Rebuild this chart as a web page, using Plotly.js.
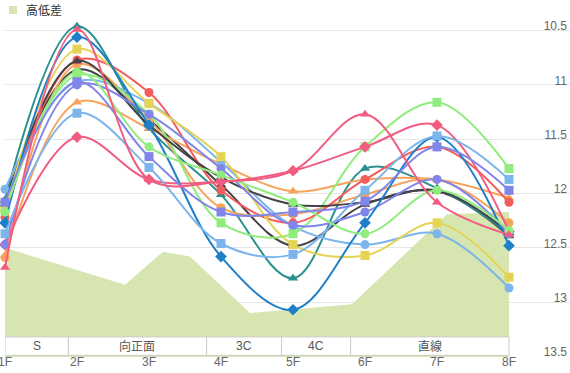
<!DOCTYPE html>
<html><head><meta charset="utf-8">
<script src="https://cdn.plot.ly/plotly-3.0.1.min.js"></script>
<style>html,body{margin:0;padding:0;background:#fff}#chart{width:570px;height:373px}</style>
</head><body><div id="chart"></div>
<script>
// ---- data ----
const xLabels = ['1F','2F','3F','4F','5F','6F','7F','8F'];
const xPos = [1,2,3,4,5,6,7,8];
const yTicks = [10.5, 11, 11.5, 12, 12.5, 13, 13.5];
const yTickText = ['10.5','11','11.5','12','12.5','13','13.5'];

// elevation profile (高低差)
const areaName = '高低差';
const areaX = [1, 2.667, 3.194, 3.569, 4.403, 4.958, 5.819, 7.139, 8];
const areaY = [12.50, 12.84, 12.535, 12.58, 13.10, 13.07, 13.02, 12.19, 12.17];

// course sections
const bandNames = ['S','向正面','3C','4C','直線'];
const bandStart = [1, 1.88, 3.8, 4.84, 5.8];
const bandEnd   = [1.88, 3.8, 4.84, 5.8, 8];

// lap series
const lapDark2   = [12.06, 10.86, 11.32, 11.92, 12.48, 12.10, 11.98, 12.39];
const lapTeal    = [12.06, 10.46, 11.40, 12.01, 12.78, 11.77, 11.95, 12.37];
const lapOrangeC = [12.59, 10.81, 11.32, 12.13, 12.19, 12.01, 11.87, 12.27];
const lapOrangeT = [12.57, 11.16, 11.40, 11.73, 11.98, 11.87, 11.87, 12.04];
const lapBlueC   = [11.96, 10.97, 11.17, 11.71, 12.30, 12.47, 12.37, 12.87];
const lapGreenS  = [12.13, 10.91, 11.27, 12.27, 12.37, 11.57, 11.16, 11.77];
const lapRedC    = [12.22, 10.77, 11.07, 11.97, 12.27, 11.87, 11.57, 12.08];
const lapDark    = [12.10, 10.78, 11.37, 11.85, 12.10, 12.08, 11.97, 12.36];
const lapYellowS = [12.15, 10.67, 11.17, 11.66, 12.47, 12.57, 12.27, 12.77];
const lapPinkD   = [12.47, 11.48, 11.87, 11.89, 11.79, 11.57, 11.37, 12.35];
const lapPurpleC = [12.47, 11.00, 11.27, 11.77, 12.29, 12.17, 11.87, 12.37];
const lapNavyD   = [12.27, 10.56, 11.37, 12.58, 13.07, 12.27, 11.48, 12.48];
const lapBlueS   = [12.37, 11.26, 11.76, 12.46, 12.56, 11.97, 11.47, 11.87];
const lapGreenC  = [12.17, 10.88, 11.57, 11.83, 12.08, 12.37, 11.97, 12.34];
const lapPurpleS = [12.08, 10.97, 11.66, 12.17, 12.17, 12.07, 11.57, 11.97];
const lapPinkT   = [12.68, 10.49, 11.87, 11.89, 11.79, 11.27, 12.08, 12.38];

const seriesNames = ['dark2','teal','orangeC','orangeT','blueC','greenS','redC','dark','yellowS','pinkD','purpleC','navyD','blueS','greenC','purpleS','pinkT'];
const seriesData = [lapDark2, lapTeal, lapOrangeC, lapOrangeT, lapBlueC, lapGreenS, lapRedC, lapDark, lapYellowS, lapPinkD, lapPurpleC, lapNavyD, lapBlueS, lapGreenC, lapPurpleS, lapPinkT];
const seriesColors = ['#434348','#2b908f','#f7a35c','#f7a35c','#7cb5ec','#90ed7d','#f45b5b','#434348','#e4d354','#f15c80','#8085e9','#1f7fc8','#7cb5ec','#90ed7d','#8085e9','#f15c80'];
const seriesSymbols = ['triangle-up','triangle-up','circle','triangle-up','circle','square','circle','triangle-up','square','diamond','circle','diamond','square','circle','square','triangle-up'];

// ---- build ----
const FONT = 'Liberation Sans, Arial, Noto Sans CJK JP, sans-serif';
const areaColor = '#d7e5b0';
const bottomVal = 13.505;

const traces = [];
traces.push({x:[xPos[0], xPos[xPos.length-1]], y:[bottomVal, bottomVal], mode:'lines', line:{width:0}, showlegend:false, hoverinfo:'skip'});
traces.push({x:areaX, y:areaY, name:areaName, mode:'lines', fill:'tonexty', fillcolor:areaColor, line:{width:0, color:areaColor}, showlegend:false});

seriesData.forEach((d,i)=>{
  const sym = seriesSymbols[i];
  traces.push({
    x:xPos, y:d, name:seriesNames[i], mode:'lines+markers', cliponaxis:false,
    line:{color:seriesColors[i], width:2, shape:'spline', smoothing:1},
    marker:{color:seriesColors[i], symbol:sym, size: sym==='diamond'?9:9, line:{width:0}},
    showlegend:false
  });
});

const shapes = [];
const annotations = [];
bandNames.forEach((n,i)=>{
  shapes.push({type:'rect', layer:'above', xref:'x', yref:'y', x0:bandStart[i], x1:bandEnd[i], y0:13.32, y1:13.49,
    fillcolor:'#ffffff', line:{color:'#cccccc', width:1}});
  annotations.push({xref:'x', yref:'y', x:(bandStart[i]+bandEnd[i])/2, y:13.405, text:n, showarrow:false,
    font:{family:FONT, size:12, color:'#555555'}});
});
// legend
shapes.push({type:'rect', xref:'paper', yref:'paper', x0:0.00708, x1:0.02124, y0:0.98847, y1:1.01153, fillcolor:areaColor, line:{width:0}});
annotations.push({xref:'paper', yref:'paper', x:0.0336, y:0.99712, xanchor:'left', yanchor:'middle', text:areaName, showarrow:false,
  font:{family:FONT, size:12, color:'#333333'}});

const layout = {
  width:570, height:373,
  margin:{l:5, r:0, t:10, b:16},
  paper_bgcolor:'#ffffff', plot_bgcolor:'#ffffff',
  showlegend:false,
  font:{family:FONT, size:12, color:'#666666'},
  xaxis:{range:[1, 1+565/72], tickmode:'array', tickvals:xPos, ticktext:xLabels, showgrid:false, zeroline:false, showline:false, ticks:'',
    ticklabeloverflow:'allow', ticklabelstandoff:-4,
    tickfont:{family:FONT, size:12, color:'#666666'}, fixedrange:true},
  yaxis:{range:[bottomVal, 10.31], side:'right', tickmode:'array', tickvals:yTicks, ticktext:yTickText, showgrid:true, gridcolor:'#e6e6e6', gridwidth:1,
    zeroline:false, showline:false, ticks:'', ticklabelposition:'inside top', ticklabelshift:-4, ticklabeloverflow:'allow',
    tickfont:{family:FONT, size:12, color:'#666666'}, fixedrange:true},
  shapes:shapes, annotations:annotations
};
Plotly.newPlot('chart', traces, layout, {displayModeBar:false, staticPlot:true});
</script></body></html>
